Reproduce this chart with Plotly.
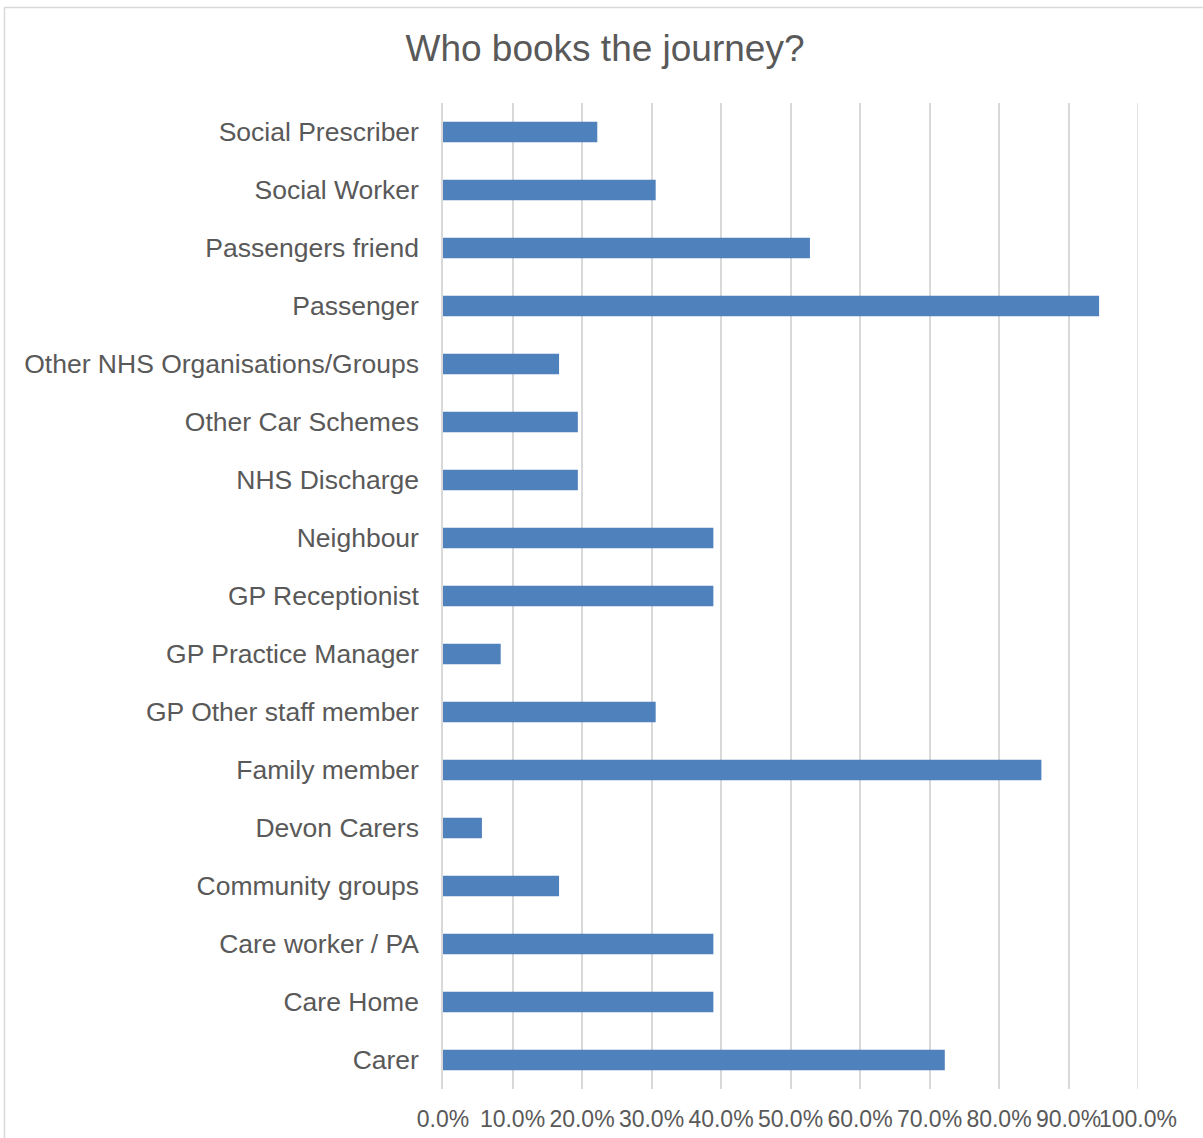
import plotly.graph_objects as go

# Who books the journey? – share of responses per booker type (top to bottom)
categories = [
    "Social Prescriber",
    "Social Worker",
    "Passengers friend",
    "Passenger",
    "Other NHS Organisations/Groups",
    "Other Car Schemes",
    "NHS Discharge",
    "Neighbour",
    "GP Receptionist",
    "GP Practice Manager",
    "GP Other staff member",
    "Family member",
    "Devon Carers",
    "Community groups",
    "Care worker / PA",
    "Care Home",
    "Carer",
]
percent = [22.2, 30.6, 52.8, 94.4, 16.7, 19.4, 19.4, 38.9, 38.9, 8.3,
           30.6, 86.1, 5.6, 16.7, 38.9, 38.9, 72.2]

tick_values = [0, 10, 20, 30, 40, 50, 60, 70, 80, 90, 100]
tick_labels = ["0.0%", "10.0%", "20.0%", "30.0%", "40.0%", "50.0%",
               "60.0%", "70.0%", "80.0%", "90.0%", "100.0%"]

W, H = 1203, 1138
L, R, T, B = 443, 65, 103, 49
pw, ph = W - L - R, H - T - B

def px_x(p):
    return (p - L) / pw

def px_y(p):
    return (H - B - p) / ph

fig = go.Figure(
    go.Bar(
        x=percent,
        y=categories,
        orientation="h",
        marker=dict(color="#4F81BD", line=dict(width=0)),
        hoverinfo="x+y",
    )
)

text_color = "#595959"
grid_color = "#D9D9D9"

fig.update_layout(
    width=W,
    height=H,
    margin=dict(l=L, r=R, t=T, b=B, pad=0, autoexpand=False),
    paper_bgcolor="white",
    plot_bgcolor="white",
    font=dict(family="Liberation Sans, Arial, sans-serif", color=text_color),
    title=dict(
        text="Who books the journey?",
        x=605 / W,
        xref="container",
        xanchor="center",
        y=1 - 48 / H,
        yref="container",
        yanchor="middle",
        font=dict(size=37, color=text_color),
    ),
    bargap=0.648,
    showlegend=False,
    shapes=[
        # outer chart border
        dict(
            type="rect",
            xref="paper",
            yref="paper",
            x0=px_x(4.5),
            x1=px_x(1210),
            y0=px_y(1145),
            y1=px_y(7.5),
            line=dict(color=grid_color, width=1.5),
            fillcolor="rgba(0,0,0,0)",
            layer="below",
        ),
        # gridline at the top of the value range
        dict(
            type="line",
            xref="x",
            yref="paper",
            x0=tick_values[-1],
            x1=tick_values[-1],
            y0=0,
            y1=1,
            line=dict(color=grid_color, width=1.5),
            layer="below",
        ),
    ],
)

fig.update_xaxes(
    range=[0, 100],
    tickvals=tick_values,
    ticktext=tick_labels,
    tickangle=0,
    automargin=False,
    showgrid=True,
    gridcolor=grid_color,
    gridwidth=1.5,
    zeroline=False,
    showline=False,
    ticks="",
    ticklabelstandoff=14,
    tickfont=dict(size=23, color=text_color),
    fixedrange=True,
)

fig.update_yaxes(
    autorange="reversed",
    automargin=False,
    showgrid=False,
    zeroline=False,
    showline=True,
    linecolor=grid_color,
    linewidth=1.5,
    ticks="",
    ticklabelstandoff=17,
    tickfont=dict(size=26.5, color=text_color),
    fixedrange=True,
)

fig.write_html("out.html")
